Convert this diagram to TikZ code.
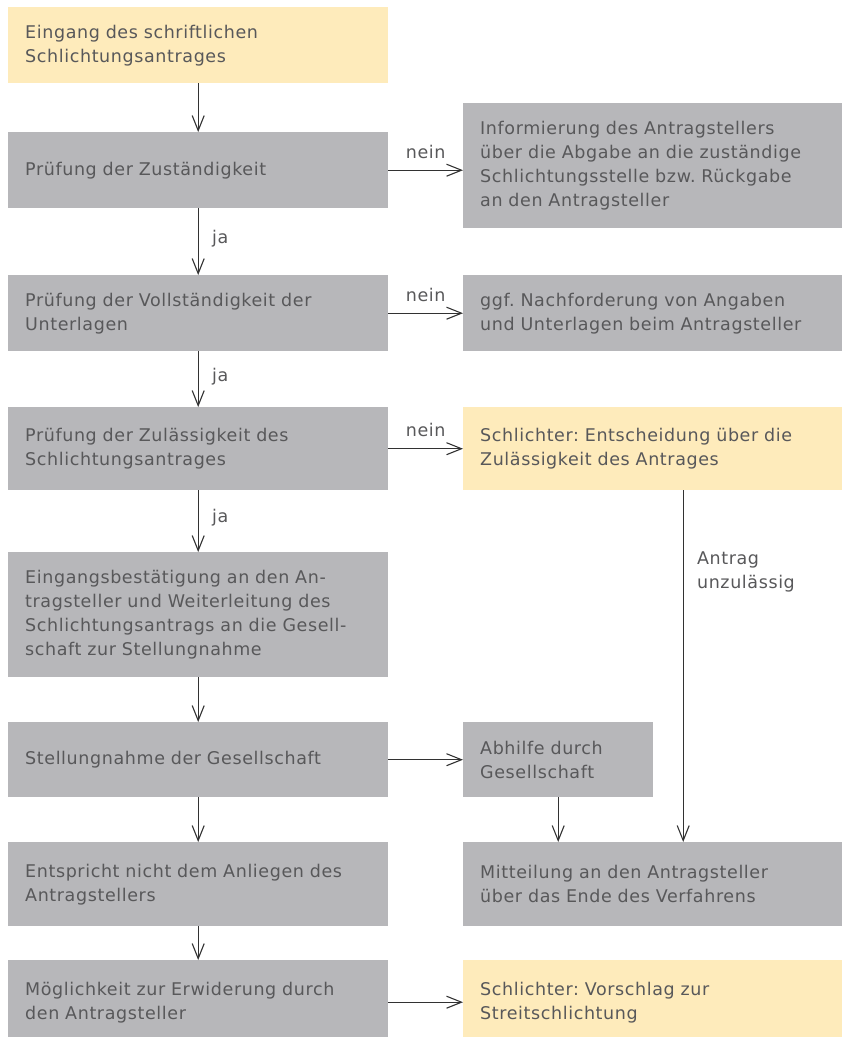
\documentclass[tikz,border=0pt]{standalone}
\usepackage{fontspec}
\setmainfont[LetterSpace=3.5]{DejaVu Sans}
\usetikzlibrary{arrows.meta}

\definecolor{mgray}{RGB}{183,183,186}
\definecolor{myellow}{RGB}{254,235,187}
\definecolor{mtext}{RGB}{88,88,90}
\definecolor{mline}{RGB}{50,50,50}
\newcommand*{\colBox}{mgray}
\newcommand*{\colJudge}{myellow}
\newcommand*{\xLeft}{8}
\newcommand*{\xRight}{463}
\newcommand*{\wLeft}{346}
\newcommand*{\wRight}{345}

\begin{document}
\frenchspacing
\begin{tikzpicture}[x=1pt,y=-1pt,
    box/.style={rectangle, fill=\colBox, anchor=north west, inner xsep=17pt, inner ysep=0pt,
        align=left, text=mtext, font=\fontsize{17.5}{24}\selectfont},
    lbox/.style={box, text width=\wLeft pt},
    rbox/.style={box, text width=\wRight pt},
    flow/.style={draw=mline, line width=1.1pt, -{Straight Barb[length=15pt,width=12pt,line width=1.1pt]}},
    lbl/.style={text=mtext, font=\fontsize{17.5}{24}\selectfont}]

    \useasboundingbox (0,0) rectangle (842,1037);

    % linke Spalte
    \node [lbox, fill=\colJudge, minimum height=76pt] (b1) at (\xLeft,7) {Eingang des schriftlichen\\Schlichtungsantrages};
    \node [lbox, minimum height=76pt] (b2) at (\xLeft,132) {Prüfung der Zuständigkeit};
    \node [lbox, minimum height=76pt] (b3) at (\xLeft,275) {Prüfung der Vollständigkeit der\\Unterlagen};
    \node [lbox, minimum height=83pt] (b4) at (\xLeft,407) {Prüfung der Zulässigkeit des\\Schlichtungsantrages};
    \node [lbox, minimum height=125pt] (b5) at (\xLeft,552) {Eingangsbestätigung an den An-\\tragsteller und Weiterleitung des\\Schlichtungsantrags an die Gesell-\\schaft zur Stellungnahme};
    \node [lbox, minimum height=75pt] (b6) at (\xLeft,722) {Stellungnahme der Gesellschaft};
    \node [lbox, minimum height=84pt] (b7) at (\xLeft,842) {Entspricht nicht dem Anliegen des\\Antragstellers};
    \node [lbox, minimum height=84pt] (b8) at (\xLeft,960) {Möglichkeit zur Erwiderung durch\\den Antragsteller};

    % rechte Spalte
    \node [rbox, minimum height=125pt] (r2) at (\xRight,103) {Informierung des Antragstellers\\über die Abgabe an die zuständige\\Schlichtungsstelle bzw. Rückgabe\\an den Antragsteller};
    \node [rbox, minimum height=76pt] (r3) at (\xRight,275) {ggf. Nachforderung von Angaben\\und Unterlagen beim Antragsteller};
    \node [rbox, fill=\colJudge, minimum height=83pt] (r4) at (\xRight,407) {Schlichter: Entscheidung über die\\Zulässigkeit des Antrages};
    \node [box, text width=156pt, minimum height=75pt] (r6) at (\xRight,722) {Abhilfe durch\\Gesellschaft};
    \node [rbox, minimum height=84pt] (r7) at (\xRight,842) {Mitteilung an den Antragsteller\\über das Ende des Verfahrens};
    \node [rbox, fill=\colJudge, minimum height=84pt] (r8) at (\xRight,960) {Schlichter: Vorschlag zur\\Streitschlichtung};

    \path [flow] (b1.south) -- (b2.north);
    \path [flow] (b2.south) -- (b3.north) node [lbl, pos=0.45, right, xshift=10pt] {ja};
    \path [flow] (b3.south) -- (b4.north) node [lbl, pos=0.45, right, xshift=10pt] {ja};
    \path [flow] (b4.south) -- (b5.north) node [lbl, pos=0.45, right, xshift=10pt] {ja};
    \path [flow] (b5.south) -- (b6.north);
    \path [flow] (b6.south) -- (b7.north);
    \path [flow] (b7.south) -- (b8.north);

    \path [flow] (b2.east) -- (b2.east -| r2.west) node [lbl, pos=0.5, above, yshift=8pt] {nein};
    \path [flow] (b3.east) -- (b3.east -| r3.west) node [lbl, pos=0.5, above, yshift=8pt] {nein};
    \path [flow] (b4.east) -- (b4.east -| r4.west) node [lbl, pos=0.5, above, yshift=8pt] {nein};
    \path [flow] (b6.east) -- (b6.east -| r6.west);
    \path [flow] (b8.east) -- (b8.east -| r8.west);

    \path [flow] (r6.south) -- (r6.south |- r7.north);
    \path [flow] ([xshift=30.5pt]r4.south) -- ([xshift=30.5pt]r7.north)
        node [lbl, pos=0.233, right, xshift=10pt, align=left] {Antrag\\unzulässig};

\end{tikzpicture}
\end{document}
